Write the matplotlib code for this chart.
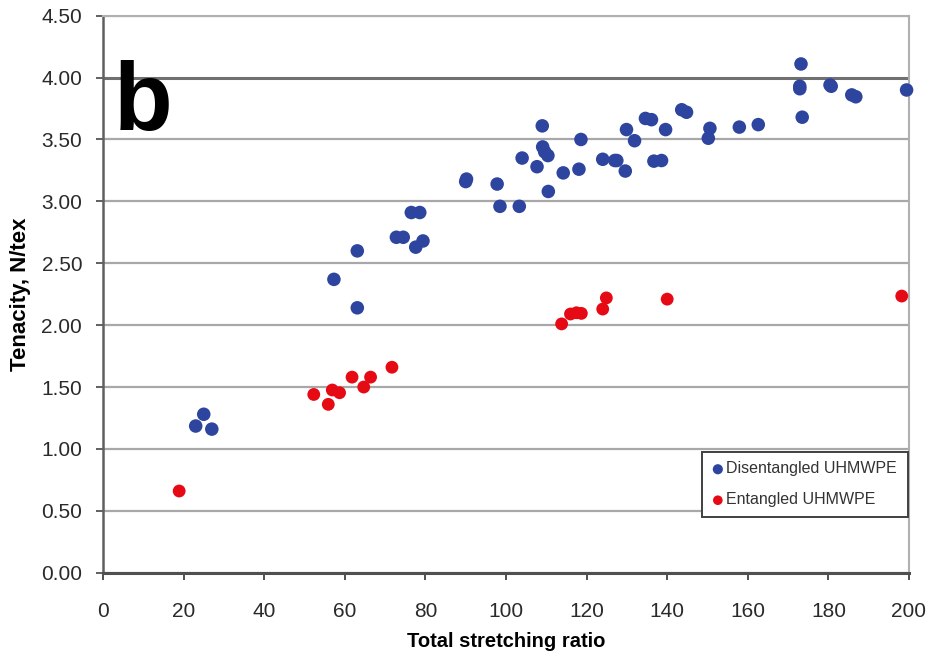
import matplotlib
matplotlib.use("Agg")
import matplotlib.pyplot as plt

# Disentangled UHMWPE
dis_x = [23.0, 25.0, 27.0, 57.3, 63.1, 63.1, 72.8, 74.5, 76.5, 78.6, 77.6, 79.4,
         90.0, 90.2, 97.8, 98.5, 103.3, 104.0, 107.7, 109.0, 109.1, 109.6, 110.4,
         110.5, 114.2, 118.1, 118.6, 124.0, 127.0, 127.5, 129.6, 129.9, 131.9,
         134.6, 136.1, 136.7, 138.6, 139.6, 143.6, 144.8, 150.2, 150.6, 157.9,
         162.6, 173.2, 172.9, 172.9, 173.5, 180.4, 180.7, 185.8, 186.8, 199.4]
dis_y = [1.185, 1.28, 1.16, 2.37, 2.60, 2.14, 2.71, 2.71, 2.91, 2.91, 2.63, 2.68,
         3.16, 3.18, 3.14, 2.96, 2.96, 3.35, 3.28, 3.61, 3.44, 3.40, 3.37,
         3.08, 3.23, 3.26, 3.50, 3.34, 3.33, 3.33, 3.245, 3.58, 3.49,
         3.67, 3.66, 3.325, 3.33, 3.58, 3.74, 3.72, 3.51, 3.59, 3.60,
         3.62, 4.11, 3.93, 3.91, 3.68, 3.94, 3.93, 3.86, 3.845, 3.90]

# Entangled UHMWPE
ent_x = [18.9, 52.3, 55.9, 56.9, 58.7, 61.8, 64.7, 66.4, 71.7,
         113.8, 116.0, 117.5, 118.7, 124.0, 124.9, 140.0, 198.2]
ent_y = [0.66, 1.44, 1.36, 1.476, 1.454, 1.58, 1.50, 1.58, 1.66,
         2.01, 2.09, 2.10, 2.095, 2.13, 2.22, 2.21, 2.235]

x_ticks = list(range(0, 201, 20))
y_ticks = [0.0, 0.5, 1.0, 1.5, 2.0, 2.5, 3.0, 3.5, 4.0, 4.5]
y_ticklabels = ["0.00", "0.50", "1.00", "1.50", "2.00", "2.50", "3.00", "3.50", "4.00", "4.50"]

plt.rcParams['font.family'] = ['Liberation Sans', 'DejaVu Sans']

fig = plt.figure(figsize=(9.32, 6.60), dpi=100)
ax = fig.add_axes([103 / 932, 1 - 572.7 / 660, 806 / 932, 557 / 660])

blue = "#2E45A0"
red = "#E60A14"

ax.scatter(dis_x, dis_y, s=95, color=blue, edgecolors='none', zorder=3,
           clip_on=False, label="Disentangled UHMWPE")
ax.scatter(ent_x, ent_y, s=85, color=red, edgecolors='none', zorder=3,
           clip_on=False, label="Entangled UHMWPE")

ax.set_xlim(0, 200)
ax.set_ylim(0, 4.5)
ax.set_xticks(x_ticks)
ax.set_yticks(y_ticks)
ax.set_yticklabels(y_ticklabels)

ax.grid(axis='y', color='#a8a8a8', linewidth=1.6, zorder=1)
ax.set_axisbelow(True)
glines = ax.get_ygridlines()
glines[8].set_color('#707070')
glines[8].set_linewidth(2.2)

for side in ['top', 'right']:
    ax.spines[side].set_color('#b0b0b0')
    ax.spines[side].set_linewidth(1.5)
ax.spines['left'].set_color('#606060')
ax.spines['left'].set_linewidth(1.8)
ax.spines['bottom'].set_color('#505050')
ax.spines['bottom'].set_linewidth(2.2)

ax.tick_params(axis='y', direction='out', length=5, width=1.4, color='#606060',
               labelsize=15, labelcolor='#2a2a2a', pad=10)
ax.tick_params(axis='x', direction='out', length=5, width=1.4, color='#505050',
               labelsize=15, labelcolor='#2a2a2a', pad=16)

ax.set_xlabel("Total stretching ratio", fontsize=14.5, fontweight='bold', labelpad=8)
ax.set_ylabel("Tenacity, N/tex", fontsize=16, fontweight='bold', labelpad=7)

leg = ax.legend(loc='lower left', bbox_to_anchor=(0.743, 0.100, 0.256, 0.124),
                mode='expand', fontsize=11.5, frameon=True, fancybox=False,
                edgecolor='#404040', framealpha=1, markerscale=0.75,
                handletextpad=0.1, handlelength=0.8, borderpad=0.6,
                labelspacing=1.0, borderaxespad=0)
leg.get_frame().set_linewidth(1.4)
for t in leg.get_texts():
    t.set_color('#333333')

fig.text(114 / 932, 1 - 130 / 660, "b", fontsize=69, fontweight='bold',
         va='baseline', ha='left', color='black')

fig.savefig("out.png", dpi=100)
